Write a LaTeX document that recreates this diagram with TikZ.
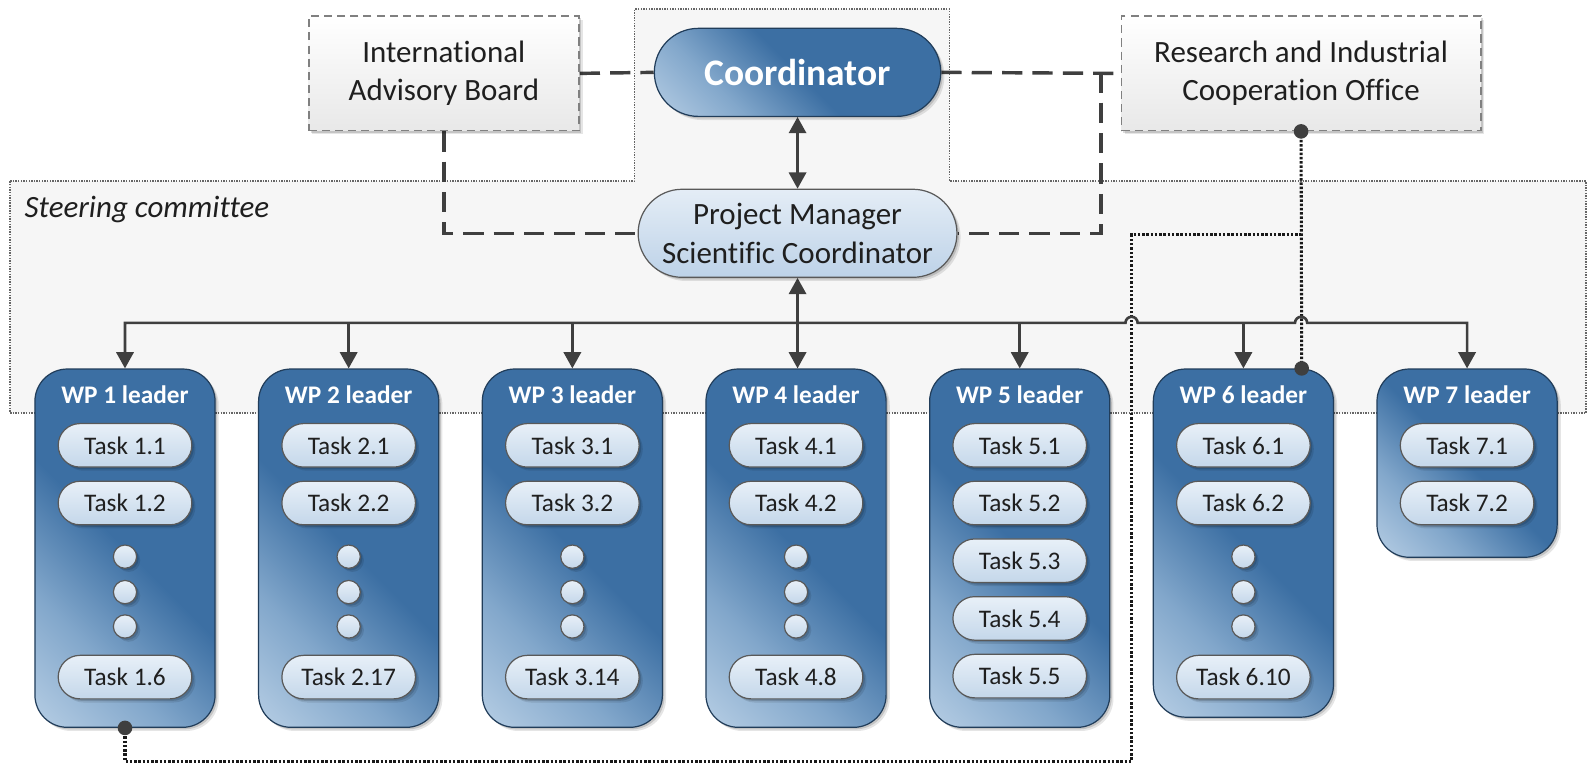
\documentclass[tikz,border=0pt]{standalone}
\usepackage{fontspec}
\setmainfont{Carlito}[Ligatures=NoCommon]
\usetikzlibrary{arrows.meta,shapes.misc,shadows,calc}

\definecolor{wpdark}{HTML}{3C6FA3}
\definecolor{wpmid}{HTML}{82A7CB}
\definecolor{wplight}{HTML}{B8CFE5}
\definecolor{tasktop}{HTML}{E8F0F8}
\definecolor{taskbot}{HTML}{C4D7EA}
\definecolor{pmtop}{HTML}{E4EDF6}
\definecolor{pmbot}{HTML}{BDD2E8}
\definecolor{linegray}{HTML}{3F3F3F}
\definecolor{zonefill}{HTML}{F6F6F6}

\pgfdeclarehorizontalshading{bluegrad}{100bp}{color(0bp)=(wplight); color(14bp)=(wplight); color(32bp)=(wpmid); color(50bp)=(wpdark); color(100bp)=(wpdark)}

\pgfdeclarelayer{paper}
\pgfdeclarelayer{zone}
\pgfdeclarelayer{links}
\pgfsetlayers{paper,zone,links,main}

\newcommand{\mainfs}{\fontsize{15.3}{19}\selectfont}
\newcommand{\taskfs}{\fontsize{12.5}{15}\selectfont}

\tikzset{
  x=0.5pt, y=-0.5pt,
  every node/.style={text=black!88},
  softshadow/.style={
    general shadow={fill=black, opacity=0.10, shadow xshift=1.8pt, shadow yshift=-1.8pt},
    general shadow={fill=black, opacity=0.14, shadow xshift=1.0pt, shadow yshift=-1.0pt}},
  pill/.style={rounded rectangle, draw=black!65, line width=0.6pt, inner sep=0pt},
  coordbox/.style={pill, draw=wpdark!55!black, shade, shading=bluegrad, shading angle=45,
    minimum width=141.5pt, minimum height=43.5pt, text=white,
    font=\fontsize{18.5}{22}\selectfont\bfseries, softshadow},
  pmbox/.style={pill, top color=pmtop, bottom color=pmbot, minimum width=157.5pt,
    minimum height=43.5pt, align=center, font=\mainfs, softshadow},
  advbox/.style={draw=black!50, dash pattern=on 4pt off 2.5pt, line width=0.8pt,
    top color=white, bottom color=black!9, minimum height=56.5pt, align=center,
    font=\mainfs, softshadow},
  wpbox/.style={draw=wpdark!55!black, line width=0.6pt, rounded corners=16pt, shade,
    shading=bluegrad, shading angle=45, minimum width=89pt, anchor=north, softshadow},
  wptitle/.style={text=white, font=\fontsize{12.5}{15}\selectfont\bfseries},
  taskbox/.style={pill, top color=tasktop, bottom color=taskbot, minimum width=66pt,
    minimum height=21.5pt, font=\taskfs, softshadow},
  ellip/.style={circle, draw=black!65, line width=0.6pt, top color=tasktop,
    bottom color=taskbot, minimum size=11.5pt, inner sep=0pt, softshadow},
  zone/.style={fill=zonefill, draw=black!60, line width=0.7pt, dash pattern=on 0.7pt off 0.6pt},
  dashconn/.style={draw=linegray, line width=1.7pt, dash pattern=on 10pt off 5pt},
  arrconn/.style={draw=linegray, line width=1.3pt, >={Triangle[length=8pt,width=8.5pt]}},
  dotconn/.style={draw=black!90, line width=1.5pt, dash pattern=on 1.2pt off 0.9pt},
  enddot/.style={fill=linegray}
}

\begin{document}
\begin{tikzpicture}
\useasboundingbox (0,0) rectangle (1568,754);
\begin{pgfonlayer}{paper}
  \fill[white] (0,0) rectangle (1568,754);
\end{pgfonlayer}

% top-level bodies
\node[advbox, minimum width=133.5pt] (iab) at (438.5,72.5) {International\\Advisory Board};
\node[advbox, minimum width=177.5pt] (rico) at (1285.5,72.5) {Research and Industrial\\Cooperation Office};
\node[coordbox] (co) at (788,71.5) {Coordinator};
\node[pmbox] (pm) at (788,230.5) {Project Manager\\Scientific Coordinator};

% work packages
\foreach \w/\h in {1/177pt,2/177pt,3/177pt,4/177pt,5/177pt,6/172pt,7/93pt}{
  \node[wpbox, minimum height=\h] (w\w) at ({123.5+221*(\w-1)},364) {};
  \node[wptitle] (h\w) at ($(w\w.north)+(0,26)$) {WP \w{} leader};
}

% tasks: first two rows, ellipsis, last task
\foreach \w/\last in {1/1.6,2/2.17,3/3.14,4/4.8,6/6.10}{
  \node[taskbox] (t\w a) at ($(w\w.north)+(0,76)$) {Task \w.1};
  \node[taskbox] (t\w b) at ($(w\w.north)+(0,133)$) {Task \w.2};
  \node[ellip] (e\w a) at ($(w\w.north)+(0,186)$) {};
  \node[ellip] (e\w b) at ($(w\w.north)+(0,221)$) {};
  \node[ellip] (e\w c) at ($(w\w.north)+(0,255)$) {};
  \node[taskbox] (t\w z) at ($(w\w.north)+(0,305)$) {Task \last};
}
\foreach \r/\dy in {1/76,2/133,3/190,4/247,5/304}{
  \node[taskbox] (t5\r) at ($(w5.north)+(0,\dy)$) {Task 5.\r};
}
\node[taskbox] (t7a) at ($(w7.north)+(0,76)$) {Task 7.1};
\node[taskbox] (t7b) at ($(w7.north)+(0,133)$) {Task 7.2};

% steering committee zone
\begin{pgfonlayer}{zone}
  \draw[zone] (10,179) -- (627,179) -- (627,9) -- (938,9) -- (938,179)
    -- (1567,179) -- (1567,408) -- (10,408) -- cycle;
\end{pgfonlayer}
\node[anchor=base west, inner sep=0pt, font=\mainfs\itshape] (sc) at (24,215) {Steering committee};

% connectors
\coordinate (busy) at (0,319);
\coordinate (j1) at (1118,319);
\coordinate (j2) at (1285.5,319);
\coordinate (dk) at (1088,71.5);
\coordinate (dl) at (1118,232);
\coordinate (w6dot) at ($(w6.north east)+(-32,0)$);

\begin{pgfonlayer}{links}
  \draw[dashconn] (iab.east) -- (co.west);
  \draw[dashconn] (co.east) -- (rico.west);
  \draw[dashconn] (iab.south) |- (pm.west);
  \draw[dashconn] (dk) |- (pm.east);

  \draw[dotconn] (w1.south) -- ($(w1.south)+(0,33)$) -| (dl) -- (dl -| rico.south);
  \draw[dotconn] (rico.south) -- (w6dot);

  \draw[arrconn,<->] (co.south) -- (pm.north);
  \draw[arrconn,<->] (pm.south) -- (pm.south |- w4.north);
  \draw[arrconn,<->] (w1.north) -- (w1.north |- busy) -- ($(j1)+(-6,0)$)
    arc[start angle=180, end angle=0, radius=3pt] -- ($(j2)+(-6,0)$)
    arc[start angle=180, end angle=0, radius=3pt] -- (w7.north |- busy) -- (w7.north);
  \foreach \w in {2,3,5,6}{
    \draw[arrconn,->] (w\w.north |- busy) -- (w\w.north);
  }
\end{pgfonlayer}

\fill[enddot] (w1.south) circle[radius=3.6pt];
\fill[enddot] (rico.south) circle[radius=3.6pt];
\fill[enddot] (w6dot) circle[radius=3.6pt];
\end{tikzpicture}
\end{document}
